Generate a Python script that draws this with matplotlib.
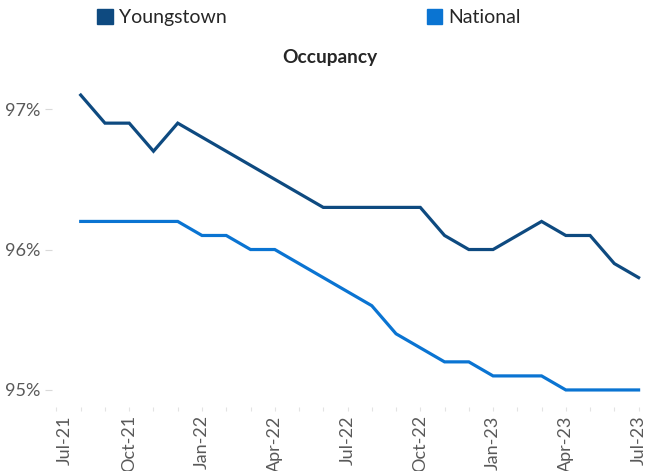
import matplotlib
matplotlib.use("Agg")
import matplotlib.pyplot as plt
from matplotlib.patches import Patch
from matplotlib.transforms import ScaledTranslation

months = ["Jul-21", "Aug-21", "Sep-21", "Oct-21", "Nov-21", "Dec-21", "Jan-22", "Feb-22", "Mar-22",
          "Apr-22", "May-22", "Jun-22", "Jul-22", "Aug-22", "Sep-22", "Oct-22", "Nov-22", "Dec-22",
          "Jan-23", "Feb-23", "Mar-23", "Apr-23", "May-23", "Jun-23", "Jul-23"]
youngstown = [97.1, 96.9, 96.9, 96.7, 96.9, 96.8, 96.7, 96.6, 96.5, 96.4, 96.3, 96.3,
              96.3, 96.3, 96.3, 96.1, 96.0, 96.0, 96.1, 96.2, 96.1, 96.1, 95.9, 95.8]
national = [96.2, 96.2, 96.2, 96.2, 96.2, 96.1, 96.1, 96.0, 96.0, 95.9, 95.8, 95.7,
            95.6, 95.4, 95.3, 95.2, 95.2, 95.1, 95.1, 95.1, 95.0, 95.0, 95.0, 95.0]
yticks = [95, 96, 97]
ytick_labels = ["95%", "96%", "97%"]

c_y = "#0E4A80"
c_n = "#0A74D2"
grey = "#595959"
plt.rcParams['font.family'] = ['Lato', 'DejaVu Sans']

fig = plt.figure(figsize=(6.47, 4.71), dpi=100)
ax = fig.add_axes([0.080, 0.136, 0.910, 0.692])

xs = list(range(1, len(months)))
ax.plot(xs, youngstown, color=c_y, lw=2.3, solid_joinstyle='miter')
ax.plot(xs, national, color=c_n, lw=2.3, solid_joinstyle='miter')

ax.set_xlim(-0.194, 24.08)
ax.set_ylim(94.879, 97.2)
ax.set_yticks(yticks)
ax.set_yticklabels(ytick_labels)
ax.set_xticks(range(len(months)))
ax.set_xticklabels([m if i % 3 == 0 else "" for i, m in enumerate(months)], rotation=90)
for s in ax.spines.values():
    s.set_visible(False)
ax.tick_params(axis='y', colors="#D9D9D9", labelcolor=grey, labelsize=13, length=5, width=0.8, pad=3)
ax.tick_params(axis='x', colors="#E3E3E3", labelcolor=grey, labelsize=13, length=3, width=0.8, pad=3)

# first label nudged right as in the reference
lbl0 = ax.get_xticklabels()[0]
lbl0.set_transform(lbl0.get_transform() + ScaledTranslation(8 / 100, 0, fig.dpi_scale_trans))

fig.text(0.510, 0.877, "Occupancy", ha='center', va='center', fontsize=13.8, fontweight='bold', color="#262626")

handles = [Patch(color=c_y, label="Youngstown"), Patch(color=c_n, label="National")]
fig.legend(handles=handles, loc='center left', bbox_to_anchor=(0.1505, 0.963), ncol=2, frameon=False,
           fontsize=14, handlelength=0.8, handleheight=0.8, handletextpad=0.3, columnspacing=10.3,
           borderaxespad=0, borderpad=0, labelcolor="#262626")

fig.savefig("out.png", dpi=100)
